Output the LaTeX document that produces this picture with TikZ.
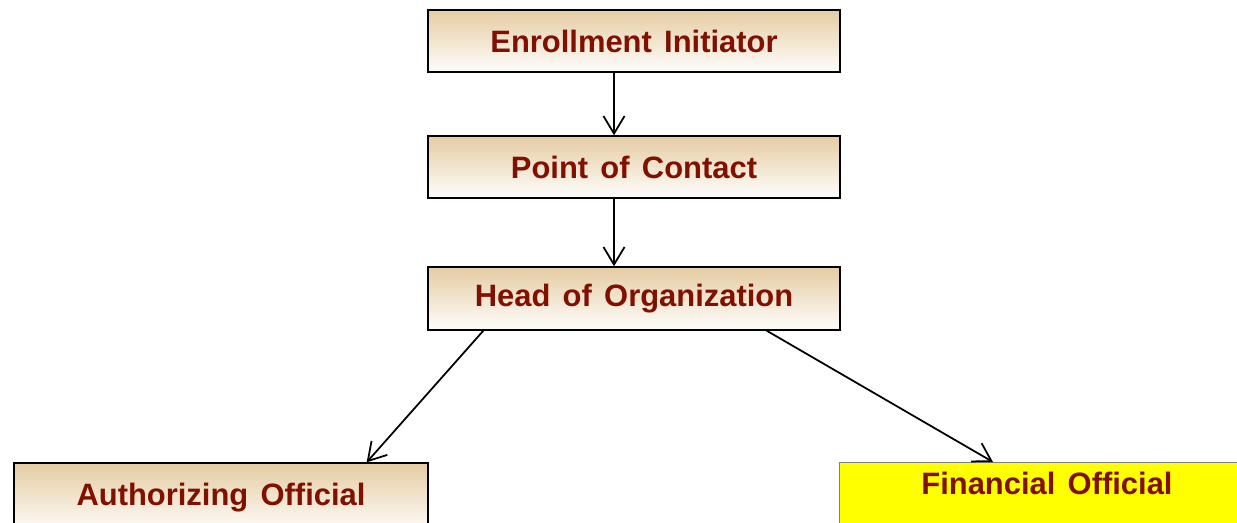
\documentclass[tikz,border=0pt]{standalone}
\usepackage{fontspec}
\setmainfont{Liberation Sans}
\usepackage{tikz}
\usepackage{xcolor}
\usetikzlibrary{arrows.meta, calc, positioning}
\definecolor{rolered}{RGB}{128,16,0}
\definecolor{roletan}{RGB}{229,204,163}
\definecolor{roleyellow}{RGB}{255,255,0}
\tikzset{
  rolebox/.style={draw=black, line width=0.8pt, top color=roletan, bottom color=white!97!roletan,
    minimum width=8.24cm, minimum height=1.24cm, inner sep=0pt,
    font=\fontsize{17.6}{20}\selectfont\bfseries, text=rolered},
  finbox/.style={draw=gray, line width=0.6pt, fill=roleyellow, anchor=north west,
    minimum width=8.3cm, inner xsep=0pt, text height=0.64cm, text depth=0.8cm, inner ysep=0pt,
    font=\fontsize{17.6}{20}\selectfont\bfseries, text=rolered},
  flow/.style={line width=1pt, -{Straight Barb[length=10pt,width=12pt,line width=1pt]}}
}

\begin{document}
\begin{tikzpicture}[x=0.02cm, y=-0.02cm]
                        \useasboundingbox (0, 0) rectangle (1237, 523);
                        \clip (0, 0) rectangle (1237, 523);

                        \node[rolebox] (init) at (634, 41) {Enrollment\hspace{0.12em} Initiator};
                        \node[rolebox] (poc) at (634, 167) {Point\hspace{0.12em} of\hspace{0.12em} Contact};
                        \node[rolebox, minimum height=1.26cm] (head) at (634, 298.5) {Head\hspace{0.12em} of\hspace{0.12em} Organization};
                        \node[rolebox, minimum width=8.28cm, minimum height=1.4cm] (auth) at (221, 498) {Authorizing\hspace{0.12em} Official};
                        \node[finbox] (fin) at (839, 462) {Financial\hspace{0.12em} Official};

                        \draw[flow] ([xshift=-0.4cm]init.south) -- ([xshift=-0.4cm]poc.north);
                        \draw[flow] ([xshift=-0.4cm]poc.south) -- ([xshift=-0.4cm]head.north);
                        \draw[flow] ([xshift=1.12cm]head.south west) -- ([xshift=-1.24cm]auth.north east);
                        \draw[flow] ([xshift=-1.48cm]head.south east) -- ([xshift=3.08cm]fin.north west);
                    \end{tikzpicture}
\end{document}
